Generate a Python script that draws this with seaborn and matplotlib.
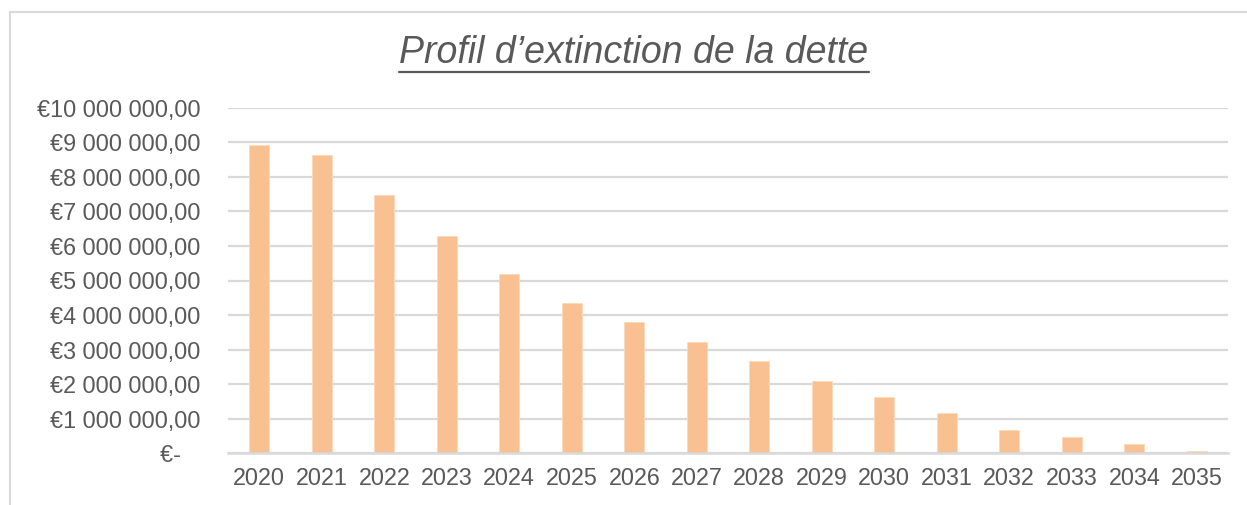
import matplotlib
matplotlib.use("Agg")
import matplotlib.pyplot as plt
import seaborn as sns
import pandas as pd
from matplotlib.lines import Line2D
from matplotlib.patches import Rectangle
from matplotlib.ticker import FuncFormatter

# ━━━━━━━━━━━━━━━━━━━━━━━━━━━━━━━━━━━━━━━━━━━━━━━━━━━━━━━━━━━━━━━━━━━━
# DATA
# ━━━━━━━━━━━━━━━━━━━━━━━━━━━━━━━━━━━━━━━━━━━━━━━━━━━━━━━━━━━━━━━━━━━━

years = ["2020", "2021", "2022", "2023", "2024", "2025", "2026", "2027",
         "2028", "2029", "2030", "2031", "2032", "2033", "2034", "2035"]
capital_restant = [8910000, 8620000, 7470000, 6290000, 5180000, 4360000,
                   3790000, 3220000, 2660000, 2100000, 1630000, 1160000,
                   680000, 470000, 270000, 60000]
y_ticks = [0, 1e6, 2e6, 3e6, 4e6, 5e6, 6e6, 7e6, 8e6, 9e6, 10e6]
title = "Profil d\u2019extinction de la dette"

# ━━━━━━━━━━━━━━━━━━━━━━━━━━━━━━━━━━━━━━━━━━━━━━━━━━━━━━━━━━━━━━━━━━━━
# STYLE
# ━━━━━━━━━━━━━━━━━━━━━━━━━━━━━━━━━━━━━━━━━━━━━━━━━━━━━━━━━━━━━━━━━━━━

BAR_COLOR = "#F9C191"
TEXT_COLOR = "#595959"
GRID_COLOR = "#D9D9D9"

sns.set_theme(style="white")
plt.rcParams["font.family"] = ["Liberation Sans", "DejaVu Sans"]


def euro_fmt(v, pos=None):
    if v == 0:
        return "\u20ac-   "
    s = f"{v:,.2f}".replace(",", " ").replace(".", ",")
    return "\u20ac" + s


df = pd.DataFrame({"annee": years, "capital": capital_restant})

fig = plt.figure(figsize=(12.47, 5.05), dpi=100)
ax = fig.add_axes([228 / 1247, 1 - 453.3 / 505, 1000 / 1247, (453.3 - 107.7) / 505])

sns.barplot(data=df, x="annee", y="capital", color=BAR_COLOR, saturation=1,
            width=0.32, edgecolor="#FCD9BA", linewidth=0.6, ax=ax)

ax.set_ylim(0, 10e6)
ax.set_yticks(y_ticks)
ax.yaxis.set_major_formatter(FuncFormatter(euro_fmt))
ax.set_xlabel("")
ax.set_ylabel("")
ax.grid(axis="y", color=GRID_COLOR, linewidth=1.6)
ax.set_axisbelow(True)
for side in ["top", "right", "left"]:
    ax.spines[side].set_visible(False)
ax.spines["bottom"].set_color(GRID_COLOR)
ax.spines["bottom"].set_linewidth(1.8)
ax.tick_params(axis="both", length=0, labelsize=16.8, colors=TEXT_COLOR)
ax.tick_params(axis="y", pad=20)
ax.tick_params(axis="x", pad=10)

# chart frame
fig.patches.append(Rectangle((10 / 1247, -0.1), 1.2, 1 - 12 / 505 + 0.1,
                             transform=fig.transFigure, fill=False,
                             edgecolor=GRID_COLOR, linewidth=1.5))

# underlined italic title
t = fig.text(634 / 1247, 1 - 63 / 505, title, ha="center", va="baseline",
             fontsize=27, style="italic", color=TEXT_COLOR)
fig.canvas.draw()
bb = t.get_window_extent().transformed(fig.transFigure.inverted())
y_ul = 1 - 72 / 505
fig.add_artist(Line2D([bb.x0, bb.x1], [y_ul, y_ul], transform=fig.transFigure,
                      color=TEXT_COLOR, linewidth=1.6))

fig.savefig("out.png", dpi=100)
